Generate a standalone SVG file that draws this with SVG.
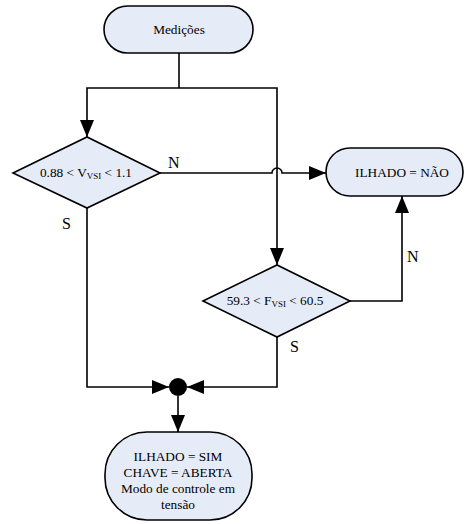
<svg xmlns="http://www.w3.org/2000/svg" width="465" height="524" viewBox="0 0 465 524">
  <style>
    .box { fill: #e6ecf7; stroke: #000; stroke-width: 1.6; }
    .lbl { font-family: "Liberation Serif", "Times New Roman", serif; font-size: 13.3px; fill: #000; text-anchor: middle; }
    .yn { font-family: "Liberation Serif", "Times New Roman", serif; font-size: 16px; fill: #000; }
    .sub { font-size: 9px; }
    .wire { fill: none; stroke: #000; stroke-width: 1.6; }
  </style>
  <defs>
    <marker id="arrow" markerUnits="userSpaceOnUse" markerWidth="18" markerHeight="14" viewBox="0 0 18 14" refX="17" refY="7" orient="auto">
      <path d="M0,0 L17,7 L0,14 Z" fill="#000"/>
    </marker>
  </defs>

  <g id="connectors">
    <path class="wire" d="M179,53 V88"/>
    <path class="wire" d="M179,88 H87 V137" marker-end="url(#arrow)"/>
    <path class="wire" d="M179,88 H277 V265" marker-end="url(#arrow)"/>
    <path class="wire" d="M160,173 H272 A5,5 0 0 1 282,173 H326" marker-end="url(#arrow)"/>
    <path class="wire" d="M350,301 H402 V196" marker-end="url(#arrow)"/>
    <path class="wire" d="M87,208 V387 H169" marker-end="url(#arrow)"/>
    <path class="wire" d="M277,337 V387 H187" marker-end="url(#arrow)"/>
    <path class="wire" d="M178,396 V432" marker-end="url(#arrow)"/>
    <circle id="junction" cx="178" cy="387" r="9" fill="#000"/>
    <text class="yn" x="168" y="168">N</text>
    <text class="yn" x="62" y="229">S</text>
    <text class="yn" x="407" y="262">N</text>
    <text class="yn" x="290" y="352">S</text>
  </g>

  <g id="medicoes">
    <rect class="box" x="104" y="6" width="149" height="47" rx="23.5"/>
    <text class="lbl" x="179" y="34">Medições</text>
  </g>

  <g id="teste-tensao">
    <polygon class="box" points="13,173 87,137 160,173 87,208"/>
    <text class="lbl" x="86" y="177">0.88 &lt; V<tspan class="sub" dy="2">VSI</tspan><tspan dy="-2"> &lt; 1.1</tspan></text>
  </g>

  <g id="ilhado-nao">
    <rect class="box" x="326" y="148" width="137" height="48" rx="24"/>
    <text class="lbl" x="402" y="177">ILHADO = NÃO</text>
  </g>

  <g id="teste-frequencia">
    <polygon class="box" points="203,301 277,265 350,301 277,337"/>
    <text class="lbl" x="275" y="305">59.3 &lt; F<tspan class="sub" dy="2">VSI</tspan><tspan dy="-2"> &lt; 60.5</tspan></text>
  </g>

  <g id="ilhado-sim">
    <rect class="box" x="105" y="432" width="147" height="88" rx="42" ry="42"/>
    <text class="lbl" x="178" y="461">ILHADO = SIM</text>
    <text class="lbl" x="178" y="477">CHAVE = ABERTA</text>
    <text class="lbl" x="178" y="493">Modo de controle em</text>
    <text class="lbl" x="178" y="509">tensão</text>
  </g>
</svg>
